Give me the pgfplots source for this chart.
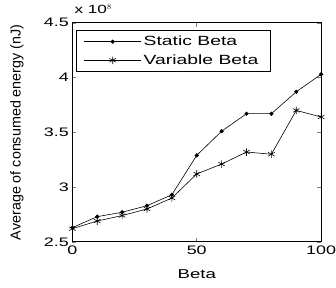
\documentclass[border=0pt]{standalone}
\usepackage{fontspec}
\setmainfont{Liberation Sans}[FakeStretch=1.45]
\newfontfamily\ylabfont{Liberation Sans}
\usepackage{pgfplots}
\pgfplotsset{compat=1.18}
\begin{document}
\begin{tikzpicture}
\begin{axis}[
  scale only axis,
  width=251bp, height=221bp,
  xmin=0, xmax=100, ymin=2.5, ymax=4.5,
  xtick={0,50,100}, ytick={2.5,3,3.5,4,4.5},
  yticklabels={2.5,3,3.5,4,4.5},
  tick align=inside,
  major tick length=4bp,
  tick style={line width=0.6pt},
  /pgf/number format/assume math mode=true,
  ticklabel style={font=\fontsize{12.5}{13}\selectfont},
  xticklabel style={yshift=-1bp},
  xlabel={Beta}, ylabel={Average of consumed energy (nJ)},
  xlabel style={at={(axis description cs:0.5,-0.149)}, anchor=center, font=\fontsize{13}{14}\selectfont},
  ylabel style={at={(axis description cs:-0.223,0.5)}, anchor=center, font=\ylabfont\fontsize{14.5}{15}\selectfont},
  axis line style={line width=0.8pt},
  legend style={at={(rel axis cs:0.016,0.968)}, anchor=north west,
    font=\fontsize{13.5}{15}\selectfont, draw=black, line width=0.8pt,
    row sep=3.5bp, inner xsep=7bp, inner ysep=4bp, cells={anchor=west}},
  legend image code/.code={\draw[#1] (0bp,0bp) -- (58bp,0bp); \draw[#1,only marks] plot coordinates {(29bp,0bp)};},
  clip=false,
]
\addplot[black, line width=0.6pt, mark=*, mark size=1.8pt] coordinates {
(0,2.63) (10,2.73) (20,2.77) (30,2.83) (40,2.93) (50,3.29) (60,3.51) (70,3.67) (80,3.67) (90,3.87) (100,4.03)};
\addlegendentry{Static Beta}
\addplot[black, line width=0.6pt, mark=asterisk, mark size=3.8pt] coordinates {
(0,2.62) (10,2.69) (20,2.74) (30,2.80) (40,2.90) (50,3.12) (60,3.21) (70,3.32) (80,3.30) (90,3.70) (100,3.64)};
\addlegendentry{Variable Beta\hspace*{3bp}}
\node[anchor=base west, font=\fontsize{12}{13}\selectfont, inner sep=0pt] at ([yshift=9bp]rel axis cs:0.008,1) {x 10$^{8}$};
\coordinate (sw) at (rel axis cs:0,0);
\coordinate (ne) at (rel axis cs:1,1);
\end{axis}
\pgfresetboundingbox
\path (sw) ++(-73bp,-46bp) (ne) ++(15bp,23bp);
\end{tikzpicture}
\end{document}
